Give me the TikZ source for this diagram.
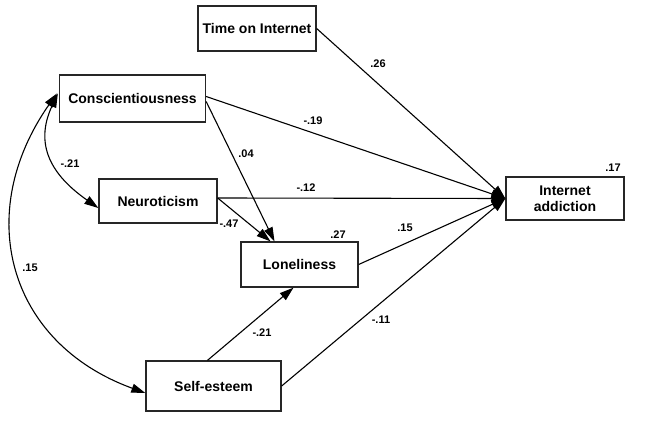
\documentclass[tikz,border=0pt]{standalone}
\usepackage{fontspec}
\setmainfont{Liberation Sans}
\usetikzlibrary{arrows.meta,positioning,calc}
\tikzset{
  >={Triangle[length=14pt,width=9pt]},
  var/.style={draw=black!85,line width=1.3pt,inner sep=0pt,minimum width=118pt,minimum height=45pt,font=\fontsize{14}{16}\selectfont\bfseries,align=center},
  coef/.style={font=\fontsize{11}{12}\selectfont\bfseries,inner sep=0pt},
  pth/.style={->,line width=1.1pt},
  cov/.style={<->,line width=1.1pt},
}
\begin{document}
\begin{tikzpicture}[x=1pt,y=1pt]
\useasboundingbox (0,0) rectangle (665,421);
% variables
\node[var] (time) at (257,392.5) {Time on Internet};
\node[var,minimum width=146pt,minimum height=47pt] (consc) at (132.5,322.5) {Conscientiousness};
\node[var,minimum height=44pt] (neuro) at (158,220) {Neuroticism};
\node[var,minimum width=117pt] (lone) at (299.5,156.5) {Loneliness};
\node[var,minimum width=135pt,minimum height=50pt] (self) at (213.5,35) {Self-esteem};
\node[var,minimum height=43pt] (ia) at (565,222.5) {Internet\\addiction};
% paths
\draw[pth] (time.east)--(ia.west);
\draw[pth] ([yshift=2]consc.east)--(ia.west);
\draw[pth] ([yshift=3]neuro.east)--(ia.west);
\draw[pth] (lone.east)--(ia.west);
\draw[pth] (self.east)--(ia.west);
\draw[pth] ([yshift=-3]consc.east)--([xshift=-25]lone.north);
\draw[pth] ([yshift=3]neuro.east)--([xshift=-29]lone.north);
\draw[pth] ([xshift=-6]self.north)--([xshift=-6]lone.south);
% covariances
\draw[cov] ([xshift=-1,yshift=5]consc.west) to[out=245,in=145,looseness=1.2] ([yshift=-7]neuro.west);
\draw[cov] ([xshift=-2,yshift=5]consc.west) to[out=235,in=160,looseness=1.2] ([yshift=-7]self.west);
% coefficients
\node[coef] (c1) at (378,357) {.26};
\node[coef] (c2) at (313,300) {-.19};
\node[coef] (c3) at (246,267) {.04};
\node[coef] (c4) at (70,257) {-.21};
\node[coef] (c5) at (306,233) {-.12};
\node[coef] (c6) at (229,197) {-.47};
\node[coef] (r1) at (338,186) {.27};
\node[coef] (c7) at (405,193) {.15};
\node[coef] (r2) at (613,253) {.17};
\node[coef] (c8) at (30,153) {.15};
\node[coef] (c9) at (262,88) {-.21};
\node[coef] (c10) at (381,101) {-.11};
\end{tikzpicture}
\end{document}
